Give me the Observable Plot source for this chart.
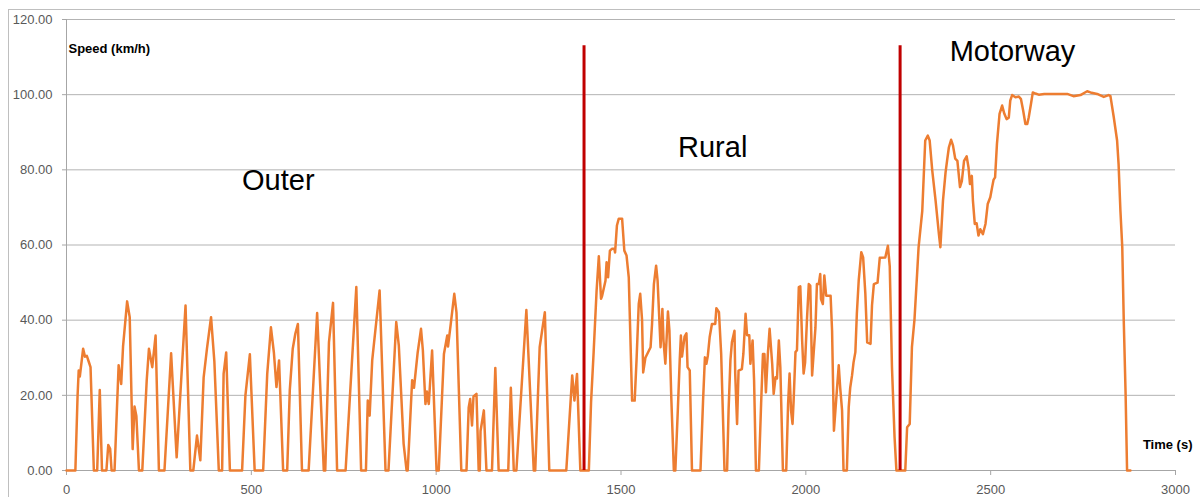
<!DOCTYPE html>
<html><head><meta charset="utf-8">
<script src="https://cdn.jsdelivr.net/npm/d3@7"></script>
<script src="https://cdn.jsdelivr.net/npm/@observablehq/plot@0.6"></script>
<style>
body{margin:0;background:#fff;font-family:"Liberation Sans",Arial,sans-serif;}
#wrap{position:relative;width:1200px;height:497px;overflow:hidden;}
#frame{position:absolute;left:8px;top:9px;width:1300px;height:600px;border-left:1px solid #bfbfbf;border-top:1px solid #bfbfbf;}
#chart{position:absolute;left:0;top:0;}
</style></head><body><div id="wrap"><div id="frame"></div><div id="chart"></div></div>
<script>
// Time (s)
const timeS = [0,24,30,33,36,45,50,55,60,65,74,83,90,96,108,113,118,122,130,141,148,153,164,171,179,184,189,196,205,217,223,232,241,250,265,283,298,322,335,343,353,362,371,380,391,400,412,421,425,432,442,475,484,496,509,532,543,553,561,568,575,586,597,604,612,619,626,637,655,678,696,700,710,721,732,755,784,797,810,815,820,827,832,847,863,871,892,899,912,920,923,935,940,950,959,964,971,975,980,989,1001,1007,1021,1030,1032,1039,1049,1055,1068,1082,1088,1092,1097,1101,1109,1115,1118,1120,1124,1129,1136,1151,1160,1169,1195,1202,1210,1217,1244,1264,1268,1280,1294,1306,1352,1368,1374,1377,1381,1390,1413,
1419,1426,1434,1440,1446,1449,1458,1461,1465,1470,1476,1482,1484,1489,1494,1503,1509,1515,1521,1530,1537,1542,1548,1552,1557,1560,1566,1571,1575,1580,1584,1589,1595,1599,1607,1612,1615,1620,1627,1631,1636,1643,1647,1654,1659,1662,1665,1672,1677,1680,1686,1692,1715,1722,1727,1731,1735,1740,1746,1755,1758,1765,1771,1780,1787,1791,1796,1800,1807,1809,1814,1818,1827,1831,1837,1841,1847,1850,1856,1860,1865,1873,1879,1884,1888,1892,1897,1902,1909,1913,1918,1922,1927,1931,1938,1947,1952,1956,1960,1964,1967,1972,1976,1981,1985,1990,1994,1998,2003,2008,2012,2017,2021,2026,2030,2035,2039,2041,2046,2050,2055,2067,2071,2076,2080,2084,2089,2093,2098,2102,2111,2116,2120,2125,2129,2134,2138,2143,2150,2155,2161,2166,2175,2179,2184,2194,2200,2215,2222,2227,2233,2240,2245,2269,
2274,2281,2287,2294,2301,2305,2315,2323,2330,2335,2342,2351,2360,2364,2371,2378,2382,2387,2393,2398,2404,2410,2417,2422,2428,2435,2440,2444,2449,2452,2457,2462,2467,2472,2479,2486,2492,2499,2504,2508,2512,2517,2524,2531,2537,2543,2549,2553,2558,2567,2576,2582,2588,2594,2599,2603,2609,2614,2621,2630,2645,2662,2689,2707,2724,2743,2761,2770,2788,2806,2819,2824,2833,2842,2846,2851,2856,2860,2865,2869,2878];
// Speed (km/h)
const speedKmh = [0,0,20,26.6,25,32.4,30.3,30.5,29,27.5,0,0,21.4,0,0,6.8,5.8,0,0,28,23,33,45,40.8,5.7,17,14.5,0,0,24,32.4,27.5,35.9,0,0,31.2,3.5,43.9,0,0,9.3,2.7,24.8,32.4,40.8,29,0,0,25.7,31.4,0,0,20,30.9,0,0,25.7,38.1,31.4,22.2,29.3,0,0,21.3,32.4,36.4,39,0,0,41.9,0,0,34.1,44.6,0,0,48.8,0,0,18.6,14.6,29.3,34,47.9,0,0,39.5,33.2,7.1,0,0,24,22,31.4,37.7,32,17.7,21,17.7,31.9,0,0,31,35.9,33,38.6,47,42,0,0,16.8,19,12,19.7,20.4,0,0,10.5,12.9,16,0,0,27.3,0,0,22,0,0,42.7,0,0,32.8,42.1,0,0,25.3,18.6,21.7,25.7,0,0,
18.2,31.5,47.9,57,45.7,46.5,50.5,55.4,51.4,58.5,59,59,58,65.2,67,67,58.5,57.2,51.4,18.6,18.6,29.3,44.3,47,40,26.1,30,31,31.8,32.8,39,49.6,54.5,50.5,32.8,43,34.5,28.4,42.3,37.2,19.5,0,0,16.8,29.7,35.9,30.3,35.6,36.5,27.5,26.6,0,0,18.6,30.1,28.4,30.6,35.6,39,39,43.2,42.1,31,0,0,16,29.3,34.1,37.2,25.7,12.4,26.6,27,31,41.7,36,36,28.4,34.6,24,0,0,17.7,31,31,20.8,30.6,37.7,28.4,20.4,24.8,24.5,34.6,27.5,0,0,17.7,25.8,16,12.4,18.6,31.5,32,48.8,49,34.6,25.8,28.7,40,49.6,49.2,25.3,31,38,49.6,49.6,52.3,45.6,44.3,51.9,46.5,46.5,37.2,10.6,16,21.3,28,22,16,0,0,16.8,22,25.3,28.7,31.5,41.7,50.5,58.1,56.7,47,34.1,33.7,43.9,49.6,50,56.6,56.7,59.8,54.3,27.5,8.9,0,0,
11.5,12.4,32.8,40.3,52.3,59.4,69.1,87.8,89.1,87.8,79.8,71.8,62.9,59.4,71.8,79.3,82.4,86,88,86.5,83,82.4,75.4,77,82.4,83.6,80.7,76.2,78.4,71.8,65.6,65.8,62.5,64.2,62.9,65.6,70.9,72.7,75.4,77.4,78,86.9,94.9,97.1,94.9,93.5,93.9,98.4,99.9,99.3,99.5,98.8,95.7,92.2,92.2,94,97.5,100.6,100.3,100,100.2,100.2,100.2,100.2,99.6,99.9,100.9,100.6,100.2,99.4,99.9,99.6,94,87.8,81.6,69.1,59.4,40,20.4,0,0];

const xTicks = [0,500,1000,1500,2000,2500,3000];
const yTicks = [0,20,40,60,80,100,120];
const sectionBounds = [1400, 2255];
const sectionNames = ["Outer","Rural","Motorway"];
const sectionLabelX = [573, 1748, 2559];
const sectionLabelY = [77, 86, 111.4];
const boundaryTop = 113;

const data = timeS.map((t,i)=>({t, v: speedKmh[i]}));
const labels = sectionNames.map((name,i)=>({name, x: sectionLabelX[i], y: sectionLabelY[i]}));
const font = "'Liberation Sans', Arial, sans-serif";

const chart = Plot.plot({
  width:1200, height:497,
  marginLeft:66, marginRight:25, marginTop:19, marginBottom:27,
  style:{fontFamily:font, fontSize:"13px", background:"transparent", overflow:"visible"},
  x:{domain:[0,3000]},
  y:{domain:[0,120]},
  marks:[
    Plot.ruleY(yTicks.filter(d=>d>0), {stroke:"#b3b3b3", strokeWidth:1}),
    Plot.axisY({ticks:yTicks, tickFormat:d=>d.toFixed(2), tickSize:4, tickPadding:10, stroke:"#a6a6a6", fill:"#595959", label:null, fontSize:13}),
    Plot.axisX({ticks:xTicks, tickFormat:d=>String(d), tickSize:5, tickPadding:9, stroke:"#a6a6a6", fill:"#595959", label:null, fontSize:13}),
    Plot.ruleX([0], {stroke:"#a6a6a6"}),
    Plot.ruleY([0], {stroke:"#a6a6a6"}),
    Plot.line(data, {x:"t", y:"v", stroke:"#ed7d31", strokeWidth:2.5, strokeLinejoin:"round"}),
    Plot.ruleX(sectionBounds, {y1:0, y2:boundaryTop, stroke:"#c00000", strokeWidth:3}),
    Plot.text(labels, {x:"x", y:"y", text:"name", fontSize:29, fill:"#000", textAnchor:"middle"}),
    Plot.text(["Speed (km/h)"], {frameAnchor:"top-left", dx:2, dy:24, textAnchor:"start", fontWeight:"bold", fontSize:13, fill:"#000"}),
    Plot.text(["Time (s)"], {frameAnchor:"bottom-right", dx:17, dy:-22, textAnchor:"end", fontWeight:"bold", fontSize:13, fill:"#000"})
  ]
});
document.getElementById("chart").appendChild(chart);
</script></body></html>
